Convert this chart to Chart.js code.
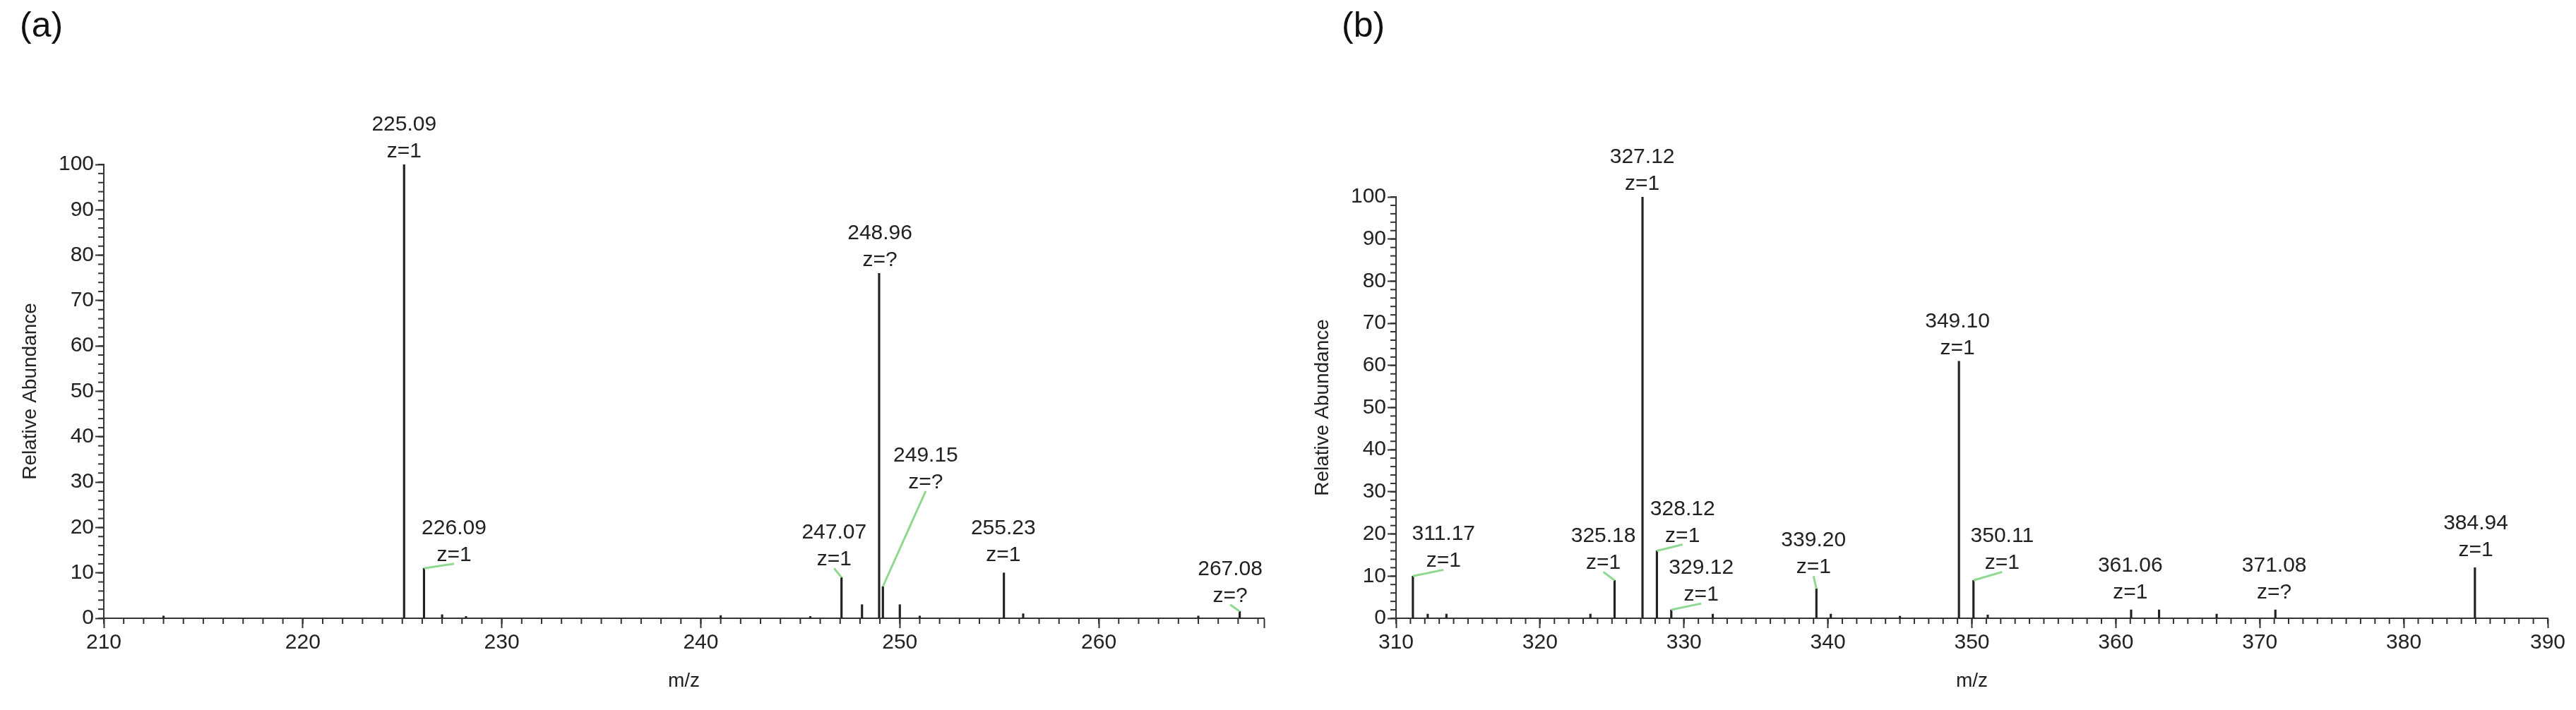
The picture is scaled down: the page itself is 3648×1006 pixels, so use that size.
<!DOCTYPE html>
<html>
<head>
<meta charset="utf-8">
<script src="https://cdn.jsdelivr.net/npm/chart.js@4.4.1/dist/chart.umd.min.js"></script>
<style>
  body { margin: 0; background: #fff; width: 3648px; height: 1006px; position: relative; font-family: Arial, "Liberation Sans", sans-serif; overflow: hidden; }
  .panel { position: absolute; }
  .tag { position: absolute; font-size: 50px; color: #111; }
</style>
</head>
<body>
<div class="tag" style="left:28px;top:6px">(a)</div>
<div class="tag" style="left:1900px;top:6px">(b)</div>
<div class="panel" style="left:0px;top:150px;width:1830px;height:856px"><canvas id="chartA"></canvas></div>
<div class="panel" style="left:1830px;top:150px;width:1818px;height:856px"><canvas id="chartB"></canvas></div>
<script>
// panel (a) peaks
const mzA = [213.0, 225.09, 226.09, 227.0, 228.2, 241.0, 245.5, 247.07, 248.10, 248.96, 249.15, 250.00, 251.0, 255.23, 256.2, 265.0, 267.08];
const abA = [0.5, 100, 11, 0.8, 0.4, 0.6, 0.4, 9, 3, 76, 7, 3, 0.5, 10, 1, 0.5, 1.5];
// panel (b) peaks
const mzB = [311.17, 312.2, 313.5, 323.5, 325.18, 327.12, 328.12, 329.12, 332.0, 339.20, 340.2, 345.0, 349.10, 350.11, 351.1, 361.06, 363.0, 367.0, 371.08, 384.94];
const abB = [10, 1, 1, 1, 9, 100, 16, 2, 1, 7, 1, 0.5, 61, 9, 0.8, 2, 2, 1, 2, 12];

// peak labels: [mz of peak, peak height, text, charge, label x, label baseline value]
const labelsA = [
  [225.09, 100, '225.09', 'z=1', 225.09, 101],
  [226.09, 11, '226.09', 'z=1', 227.6, 12],
  [247.07, 9, '247.07', 'z=1', 246.7, 11],
  [248.96, 76, '248.96', 'z=?', 249.0, 77],
  [249.15, 7, '249.15', 'z=?', 251.3, 28],
  [255.23, 10, '255.23', 'z=1', 255.2, 12],
  [267.08, 1.5, '267.08', 'z=?', 266.6, 3]
];
const labelsB = [
  [327.12, 100, '327.12', 'z=1', 327.1, 101],
  [311.17, 10, '311.17', 'z=1', 313.3, 11.5],
  [325.18, 9, '325.18', 'z=1', 324.4, 11],
  [328.12, 16, '328.12', 'z=1', 329.9, 17.5],
  [329.12, 2, '329.12', 'z=1', 331.2, 3.5],
  [339.20, 7, '339.20', 'z=1', 339.0, 10],
  [349.10, 61, '349.10', 'z=1', 349.0, 62],
  [350.11, 9, '350.11', 'z=1', 352.1, 11],
  [361.06, 2, '361.06', 'z=1', 361.0, 4],
  [371.08, 2, '371.08', 'z=?', 371.0, 4],
  [384.94, 12, '384.94', 'z=1', 385.0, 14]
];

const FONT = 'Arial, "Liberation Sans", sans-serif';

const peakLabels = {
  id: 'peakLabels',
  afterDatasetsDraw(chart, args, opts) {
    const ctx = chart.ctx, x = chart.scales.x, y = chart.scales.y;
    ctx.save();
    // minor ticks
    ctx.strokeStyle = '#333';
    ctx.lineWidth = 2;
    for (let v = Math.ceil(x.min); v <= x.max; v++) {
      const px = x.getPixelForValue(v);
      ctx.beginPath(); ctx.moveTo(px, y.bottom); ctx.lineTo(px, y.bottom + 8); ctx.stroke();
    }
    for (let v = 0; v <= 100; v += 2) {
      const py = y.getPixelForValue(v);
      ctx.beginPath(); ctx.moveTo(x.left - 8, py); ctx.lineTo(x.left, py); ctx.stroke();
    }
    ctx.font = '30px ' + FONT;
    ctx.textAlign = 'center';
    ctx.textBaseline = 'alphabetic';
    opts.items.forEach(function (l) {
      const tx = x.getPixelForValue(l[4]);
      const ty = y.getPixelForValue(l[5]);
      const px = x.getPixelForValue(l[0]);
      const py = y.getPixelForValue(l[1]);
      if (Math.abs(tx - px) > 4) {
        ctx.strokeStyle = '#8fd88f';
        ctx.lineWidth = 3;
        ctx.beginPath(); ctx.moveTo(px, py); ctx.lineTo(tx, ty); ctx.stroke();
      }
      ctx.fillStyle = '#222';
      ctx.fillText(l[3], tx, ty - 4);
      ctx.fillText(l[2], tx, ty - 42);
    });
    ctx.restore();
  }
};

function makeChart(id, mz, ab, xmin, xmax, labels, top) {
  return new Chart(document.getElementById(id), {
    type: 'bar',
    data: {
      datasets: [{
        data: mz.map(function (m, i) { return { x: m, y: ab[i] }; }),
        backgroundColor: '#222',
        barThickness: 2.5
      }]
    },
    options: {
      responsive: true,
      maintainAspectRatio: false,
      animation: false,
      layout: { padding: { top: top, right: 40, left: 22, bottom: 20 } },
      plugins: {
        legend: { display: false },
        tooltip: { enabled: false },
        peakLabels: { items: labels }
      },
      scales: {
        x: {
          type: 'linear', min: xmin, max: xmax, offset: false,
          grid: { offset: false, drawOnChartArea: false, color: '#333', tickLength: 14, tickWidth: 2 },
          border: { color: '#333', width: 2 },
          ticks: { stepSize: 10, color: '#222', font: { size: 30, family: FONT }, maxRotation: 0, autoSkip: false,
                   callback: function (v) { return v % 10 === 0 ? v : ''; } },
          title: { display: true, text: 'm/z', color: '#222', font: { size: 28, family: FONT }, padding: { top: 6 } },
          afterFit: function (s) { s.height = 110; }
        },
        y: {
          min: 0, max: 100,
          grid: { drawOnChartArea: false, color: '#333', tickLength: 12, tickWidth: 2 },
          border: { color: '#333', width: 2 },
          ticks: { stepSize: 10, color: '#222', font: { size: 30, family: FONT }, padding: 2 },
          title: { display: true, text: 'Relative Abundance', color: '#222', font: { size: 28, family: FONT } },
          afterFit: function (s) { s.width = 125; }
        }
      }
    },
    plugins: [peakLabels]
  });
}

makeChart('chartA', mzA, abA, 210, 268.3, labelsA, 83);
makeChart('chartB', mzB, abB, 310, 390, labelsB, 129);
</script>
</body>
</html>
